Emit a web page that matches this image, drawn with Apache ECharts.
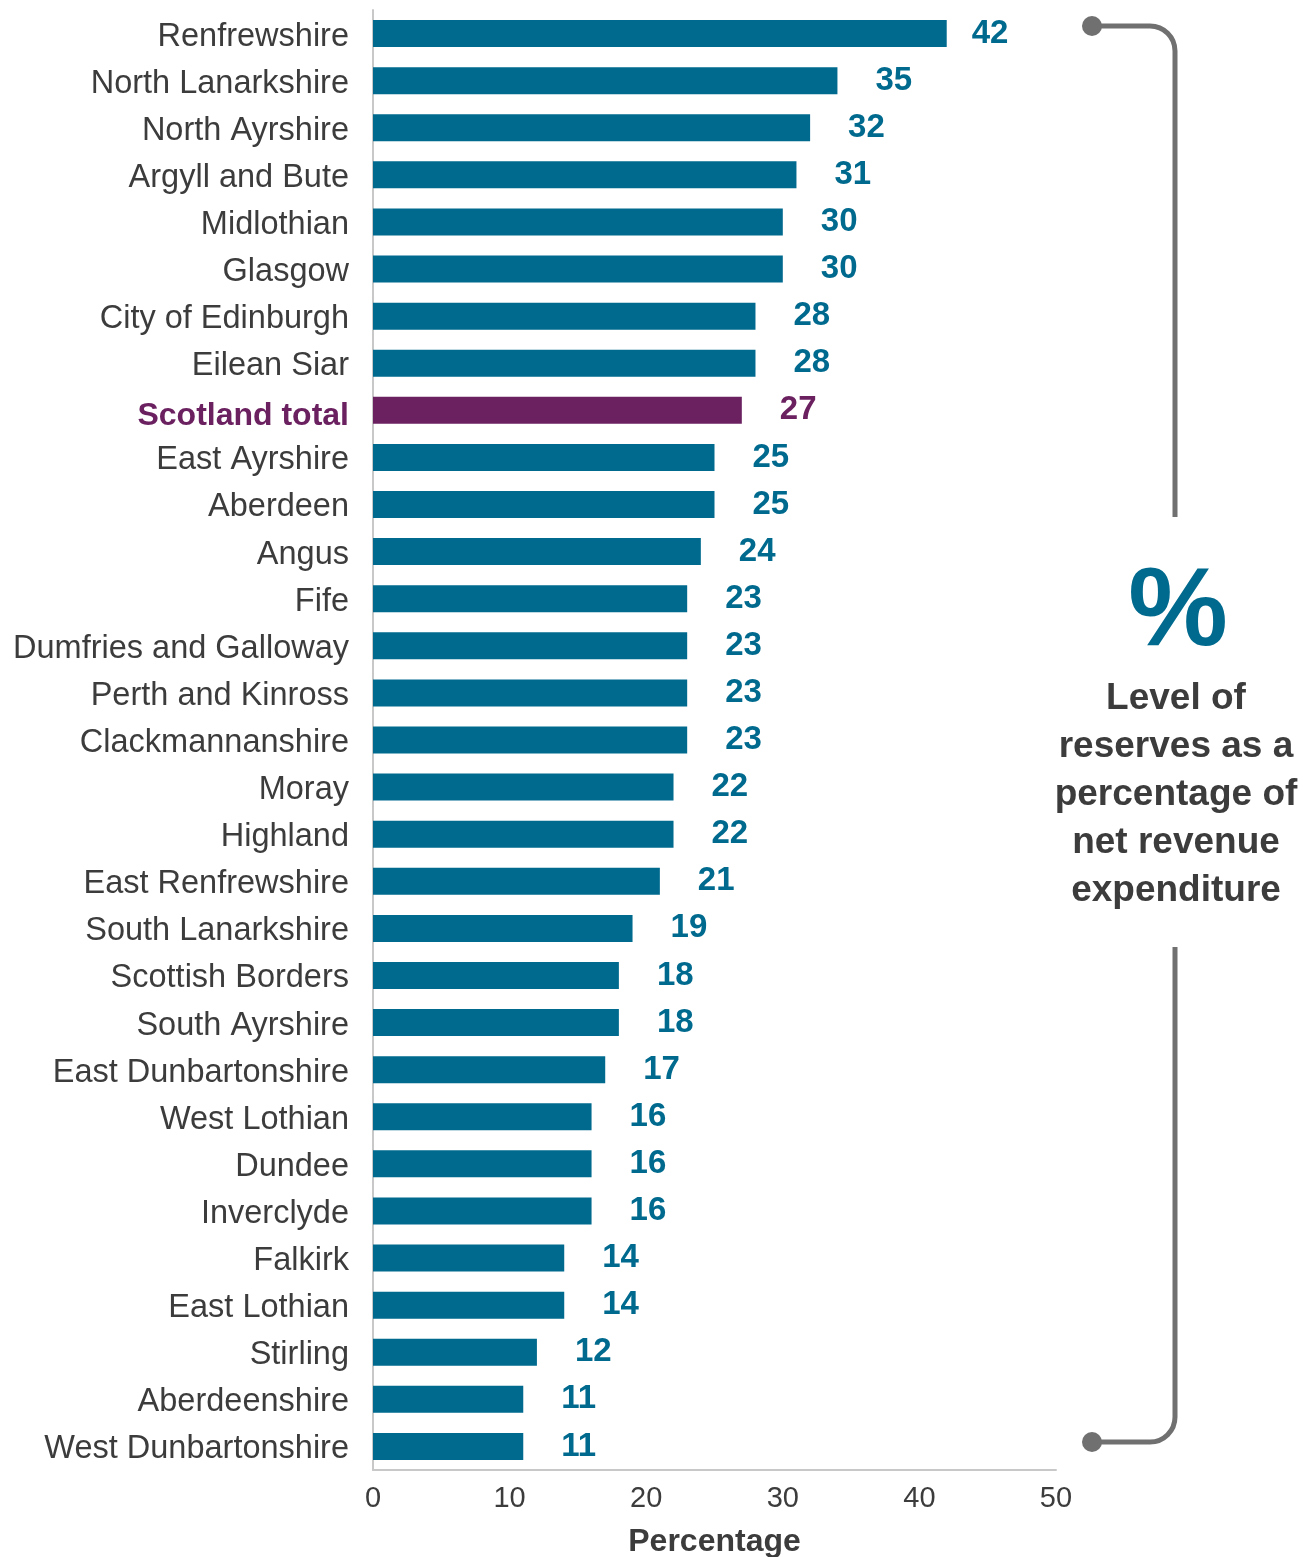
<!DOCTYPE html>
<html><head><meta charset="utf-8">
<script src="https://cdn.jsdelivr.net/npm/echarts@6/dist/echarts.min.js"></script>
<style>html,body{margin:0;padding:0;background:#fff}#c{width:1313px;height:1557px}</style>
</head><body><div id="c"></div>
<script>
const categories = ["Renfrewshire","North Lanarkshire","North Ayrshire","Argyll and Bute","Midlothian","Glasgow","City of Edinburgh","Eilean Siar","Scotland total","East Ayrshire","Aberdeen","Angus","Fife","Dumfries and Galloway","Perth and Kinross","Clackmannanshire","Moray","Highland","East Renfrewshire","South Lanarkshire","Scottish Borders","South Ayrshire","East Dunbartonshire","West Lothian","Dundee","Inverclyde","Falkirk","East Lothian","Stirling","Aberdeenshire","West Dunbartonshire"];
// bar lengths as drawn in the picture
const values = [42,34,32,31,30,30,28,28,27,25,25,24,23,23,23,23,22,22,21,19,18,18,17,16,16,16,14,14,12,11,11];
// numbers printed next to the bars
const valueLabels = [42,35,32,31,30,30,28,28,27,25,25,24,23,23,23,23,22,22,21,19,18,18,17,16,16,16,14,14,12,11,11];
const highlight = "Scotland total";
const xTicks = [0,10,20,30,40,50];
const annotationSymbol = "%";
const annotationText = "Level of\nreserves as a\npercentage of\nnet revenue\nexpenditure";
const axisTitle = "Percentage";

const TEAL = "#006a8e", PURPLE = "#6b2160", TXT = "#3c3c3c", GREY = "#707070";
const FONT = "Liberation Sans, Arial, sans-serif";

const chart = echarts.init(document.getElementById('c'));
const data = values.map((v,i)=>{
  const hl = categories[i]===highlight;
  const d = {value:v, itemStyle:{color: hl?PURPLE:TEAL}, label:{color: hl?PURPLE:TEAL}};
  if (i===0) d.label.distance = 25;
  return d;
});
const ls = {stroke:GREY,lineWidth:5,fill:null};
chart.setOption({
  animation:false,
  grid:{left:373,right:257,top:10,bottom:87,containLabel:false,outerBoundsMode:'none'},
  xAxis:{type:'value',min:xTicks[0],max:xTicks[xTicks.length-1],interval:10,
    splitLine:{show:false},
    axisLine:{show:true,lineStyle:{color:'#c8c8c8',width:2}},
    axisTick:{show:false},
    axisLabel:{color:TXT,fontSize:29,fontFamily:FONT,margin:14},
    name:axisTitle,nameLocation:'middle',nameGap:56,
    nameTextStyle:{color:TXT,fontSize:32,fontWeight:'bold',fontFamily:FONT}},
  yAxis:{type:'category',data:categories,inverse:true,
    axisLine:{show:true,lineStyle:{color:'#c8c8c8',width:2}},
    axisTick:{show:false},
    axisLabel:{margin:24,fontSize:32.5,fontFamily:FONT,color:TXT,padding:[6,0,0,0],
      formatter:(v)=> v===highlight?'{h|'+v+'}':v,
      rich:{h:{color:PURPLE,fontWeight:'bold',fontSize:32,fontFamily:FONT,padding:[6,0,0,0]}}}},
  series:[{type:'bar',data:data,barWidth:27,
    label:{show:true,position:'right',distance:38,fontSize:33,fontWeight:'bold',fontFamily:FONT,
      formatter:(p)=>String(valueLabels[p.dataIndex])}}],
  graphic:[
    {type:'line',shape:{x1:1092,y1:26,x2:1150,y2:26},style:ls},
    {type:'arc',shape:{cx:1150,cy:51,r:25,startAngle:-Math.PI/2,endAngle:0,clockwise:true},style:ls},
    {type:'line',shape:{x1:1175,y1:51,x2:1175,y2:517},style:ls},
    {type:'line',shape:{x1:1175,y1:947,x2:1175,y2:1417},style:ls},
    {type:'arc',shape:{cx:1150,cy:1417,r:25,startAngle:0,endAngle:Math.PI/2,clockwise:true},style:ls},
    {type:'line',shape:{x1:1150,y1:1442,x2:1092,y2:1442},style:ls},
    {type:'circle',shape:{cx:1092,cy:26,r:10},style:{fill:GREY}},
    {type:'circle',shape:{cx:1092,cy:1442,r:10},style:{fill:GREY}},
    {type:'text',x:1178,y:614,style:{text:annotationSymbol,fill:TEAL,fontSize:112,fontWeight:'bold',fontFamily:FONT,align:'center',verticalAlign:'middle'}},
    {type:'text',x:1176,y:795,style:{text:annotationText,fill:TXT,fontSize:37,fontWeight:'bold',fontFamily:FONT,align:'center',verticalAlign:'middle',lineHeight:48}}
  ]
});
</script></body></html>
